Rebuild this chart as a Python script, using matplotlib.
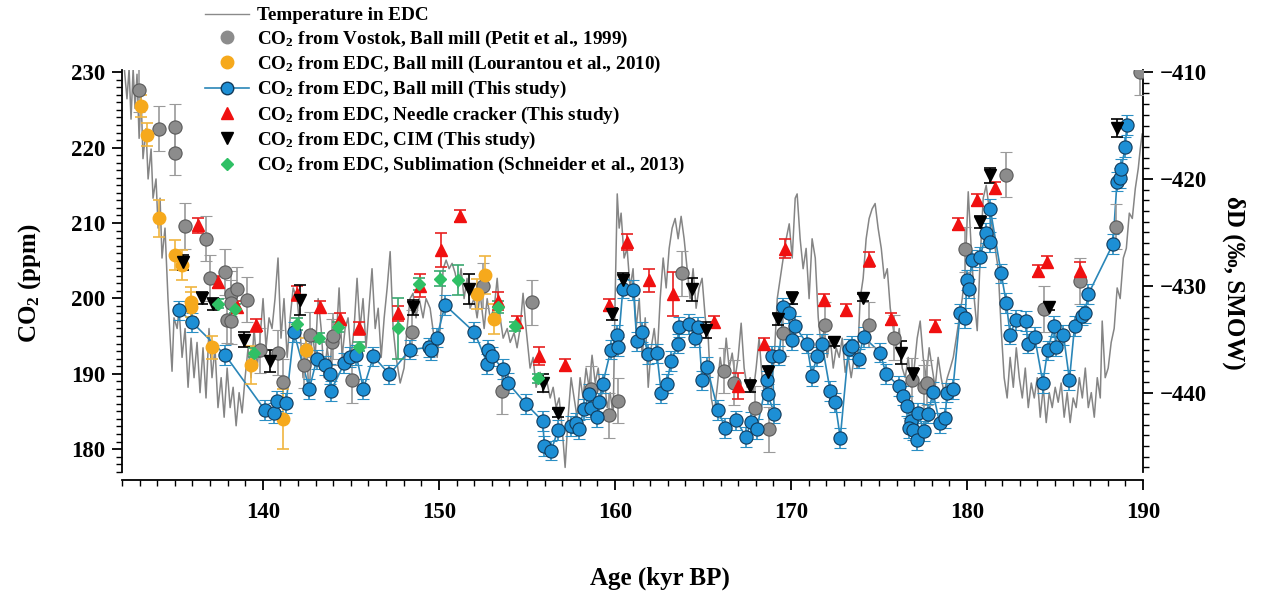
import matplotlib
matplotlib.use("Agg")
import matplotlib.pyplot as plt
from matplotlib.lines import Line2D
from matplotlib.ticker import MultipleLocator

plt.rcParams['font.family'] = 'Liberation Serif'
plt.rcParams['font.weight'] = 'bold'
plt.rcParams['mathtext.fontset'] = 'custom'
plt.rcParams['mathtext.rm'] = 'Liberation Serif:bold'
plt.rcParams['mathtext.it'] = 'Liberation Serif:bold:italic'
plt.rcParams['mathtext.bf'] = 'Liberation Serif:bold'

# --- EDC temperature proxy (deltaD, permil) ---
temp_age = [132.11, 132.28, 132.40, 132.51, 132.63, 132.74, 132.85, 132.97, 133.08, 133.19,
            133.36, 133.48, 133.65, 133.76, 133.93, 134.05, 134.16, 134.27, 134.44, 134.61,
            134.73, 134.84, 134.95, 135.13, 135.24, 135.41, 135.58, 135.75, 135.92, 136.09,
            136.26, 136.43, 136.60, 136.77, 136.94, 137.11, 137.28, 137.45, 137.63, 137.80,
            137.97, 138.14, 138.31, 138.48, 138.65, 138.82, 138.99, 139.16, 139.33, 139.50,
            139.67, 139.84, 140.01, 140.18, 140.35, 140.52, 140.69, 140.86, 141.03, 141.20,
            141.38, 141.55, 141.72, 141.94, 142.11, 142.28, 142.45, 142.63, 142.80, 142.97,
            143.14, 143.31, 143.48, 143.65, 143.82, 143.99, 144.16, 144.33, 144.50, 144.67,
            144.84, 145.01, 145.18, 145.35, 145.52, 145.69, 145.86, 146.03, 146.20, 146.38,
            146.55, 146.72, 146.89, 147.06, 147.23, 147.40, 147.57, 147.80, 148.02, 148.19,
            148.36, 148.53, 148.70, 148.88, 149.10, 149.27, 149.50, 149.73, 149.90, 150.07,
            150.24, 150.41, 150.58, 150.75, 150.92, 151.09, 151.26, 151.43, 151.60, 151.77,
            152.00, 152.17, 152.34, 152.57, 152.74, 152.91, 153.14, 153.31, 153.48, 153.65,
            153.88, 154.05, 154.27, 154.44, 154.61, 154.78, 154.95, 155.18, 155.35, 155.52,
            155.75, 155.92, 156.09, 156.32, 156.49, 156.66, 156.83, 157.00, 157.17, 157.34,
            157.51, 157.68, 157.85, 158.02, 158.19, 158.36, 158.53, 158.70, 158.88, 159.05,
            159.22, 159.39, 159.56, 159.73, 159.90, 160.01, 160.13, 160.24, 160.35, 160.52,
            160.69, 160.86, 161.03, 161.20, 161.38, 161.55, 161.72, 161.89, 162.06, 162.23,
            162.40, 162.57, 162.74, 162.91, 163.08, 163.25, 163.42, 163.59, 163.76, 163.93,
            164.10, 164.27, 164.44, 164.61, 164.78, 164.95, 165.13, 165.30, 165.47, 165.64,
            165.81, 165.98, 166.15, 166.32, 166.49, 166.66, 166.83, 167.00, 167.17, 167.34,
            167.51, 167.68, 167.85, 168.02, 168.19, 168.36, 168.53, 168.70, 168.88, 169.05,
            169.22, 169.39, 169.56, 169.73, 169.90, 170.07, 170.24, 170.35, 170.52, 170.69,
            170.86, 171.03, 171.20, 171.38, 171.55, 171.72, 171.89, 172.06, 172.23, 172.40,
            172.57, 172.74, 172.91, 173.08, 173.25, 173.42, 173.59, 173.76, 173.93, 174.10,
            174.27, 174.44, 174.61, 174.78, 174.95, 175.13, 175.30, 175.47, 175.64, 175.81,
            175.98, 176.15, 176.32, 176.49, 176.66, 176.83, 177.00, 177.17, 177.34, 177.51,
            177.68, 177.85, 178.02, 178.19, 178.36, 178.53, 178.70, 178.88, 179.05, 179.22,
            179.39, 179.56, 179.73, 179.90, 180.07, 180.24, 180.41, 180.58, 180.75, 180.92,
            181.09, 181.26, 181.43, 181.60, 181.77, 181.94, 182.11, 182.28, 182.45, 182.63,
            182.80, 182.97, 183.14, 183.31, 183.48, 183.65, 183.82, 183.99, 184.16, 184.33,
            184.50, 184.67, 184.84, 185.01, 185.18, 185.35, 185.52, 185.69, 185.86, 186.03,
            186.20, 186.38, 186.55, 186.72, 186.89, 187.06, 187.23, 187.40, 187.57, 187.68,
            187.85, 188.02, 188.19, 188.36, 188.53, 188.70, 188.88, 189.05, 189.22, 189.39,
            189.56, 189.73, 189.84, 189.95]
temp_dD = [-409.3, -412.5, -409.7, -414.4, -409.7, -413.4, -410.2, -416.2, -412.1, -418.1,
           -415.3, -420.0, -417.2, -421.8, -420.0, -424.6, -421.8, -427.4, -424.6, -431.2,
           -434.9, -438.0, -433.0, -434.0, -432.1, -436.7, -434.0, -439.5, -434.9, -438.6,
           -435.3, -440.0, -435.8, -440.5, -434.0, -438.6, -435.8, -441.4, -438.6, -442.3,
           -437.7, -441.4, -439.5, -443.1, -440.0, -441.9, -438.6, -435.8, -438.6, -434.0,
           -437.7, -434.9, -431.2, -435.8, -433.0, -434.0, -431.2, -427.4, -434.9, -431.2,
           -436.7, -433.0, -430.2, -431.2, -434.0, -438.6, -434.9, -440.5, -434.0, -436.7,
           -431.2, -434.0, -438.6, -435.8, -437.7, -433.0, -435.3, -430.2, -436.7, -434.0,
           -433.0, -436.7, -434.0, -429.3, -434.0, -431.2, -435.8, -432.1, -428.4, -434.0,
           -432.1, -436.7, -433.0, -430.2, -426.8, -434.0, -436.7, -439.1, -437.7, -434.0,
           -431.2, -430.7, -433.0, -431.2, -433.0, -431.2, -432.1, -434.9, -436.7, -434.0,
           -428.4, -427.6, -428.4, -427.9, -428.8, -430.2, -428.4, -431.2, -429.3, -432.1,
           -431.2, -433.0, -430.7, -434.0, -431.2, -433.0, -432.1, -429.3, -433.0, -434.9,
           -434.0, -435.3, -434.4, -435.8, -434.0, -430.7, -434.0, -437.7, -436.7, -439.5,
           -438.1, -440.0, -438.6, -440.5, -439.5, -441.4, -440.5, -443.3, -447.0, -442.3,
           -438.6, -440.5, -442.3, -438.6, -440.5, -437.7, -439.5, -436.5, -439.1, -437.7,
           -440.5, -438.6, -441.4, -440.0, -442.3, -431.2, -421.4, -424.6, -423.2, -427.4,
           -426.5, -430.2, -428.4, -434.0, -431.2, -436.7, -433.0, -439.5, -435.8, -434.0,
           -436.7, -431.2, -427.4, -430.2, -426.5, -424.6, -423.7, -425.6, -423.5, -425.6,
           -428.4, -431.2, -428.4, -432.1, -430.2, -429.3, -433.0, -434.9, -440.5, -441.9,
           -439.5, -436.7, -438.6, -434.9, -437.7, -436.3, -438.6, -436.7, -433.5, -437.7,
           -439.5, -438.6, -440.0, -437.7, -434.9, -438.6, -440.5, -437.7, -439.5, -436.7,
           -431.2, -429.3, -427.4, -425.6, -424.2, -427.4, -421.8, -421.4, -425.6, -428.4,
           -426.5, -431.2, -425.6, -427.4, -433.0, -435.8, -434.0, -436.7, -434.9, -437.7,
           -435.8, -436.7, -434.9, -438.1, -436.7, -438.6, -436.7, -437.7, -431.2, -429.3,
           -425.6, -423.7, -422.8, -422.3, -424.6, -426.5, -429.3, -428.4, -432.1, -434.0,
           -435.8, -434.0, -437.7, -438.6, -436.7, -439.5, -437.7, -434.9, -433.3, -436.7,
           -438.6, -435.8, -437.7, -439.5, -436.7, -438.6, -440.0, -438.6, -437.7, -436.7,
           -434.9, -433.0, -431.2, -428.4, -421.2, -426.5, -431.2, -434.2, -427.4, -421.8,
           -420.6, -422.8, -424.6, -426.5, -428.4, -434.0, -438.6, -440.5, -436.7, -439.5,
           -435.8, -438.6, -440.5, -437.7, -441.4, -439.1, -440.5, -438.6, -442.3, -439.5,
           -442.8, -440.0, -441.4, -439.5, -440.9, -439.1, -442.3, -440.0, -442.8, -440.5,
           -441.4, -438.6, -440.5, -437.7, -441.4, -440.0, -442.3, -438.6, -440.5, -433.3,
           -438.6, -437.7, -435.3, -434.0, -430.2, -431.2, -427.4, -426.5, -423.2, -423.7,
           -420.9, -419.0, -417.2, -415.8]

# --- CO2 from Vostok, ball mill (Petit et al., 1999) ---
vostok_age = [132.98, 134.12, 134.99, 134.99, 135.60, 136.77, 137.00, 137.85, 138.19, 138.55,
              138.19, 139.09, 137.98, 138.18, 139.84, 140.88, 141.13, 142.34, 142.68, 143.91,
              144.01, 145.05, 148.46, 152.53, 153.57, 155.28, 158.63, 159.69, 160.17, 163.80,
              166.17, 166.77, 167.95, 168.76, 169.54, 171.94, 174.46, 175.88, 176.87, 177.53,
              177.72, 179.90, 182.23, 184.39, 186.43, 188.48, 189.80]
vostok_co2 = [227.7, 222.5, 222.8, 219.3, 209.6, 207.9, 202.7, 203.5, 200.6, 201.2,
              199.4, 199.8, 197.1, 197.0, 193.1, 192.8, 188.9, 191.1, 195.2, 194.2,
              195.0, 189.1, 195.5, 201.7, 187.7, 199.5, 188.0, 184.5, 186.4, 203.3,
              190.4, 188.8, 185.4, 182.6, 195.4, 196.5, 196.5, 194.8, 189.1, 188.2,
              188.8, 206.5, 216.4, 198.6, 202.3, 209.5, 230.0]
vostok_err = 3.0

# --- CO2 from EDC, ball mill (Lourantou et al., 2010) ---
lour_age = [133.06, 133.40, 134.09, 134.99, 135.39, 135.92, 135.90, 137.10, 139.31, 141.13,
            142.45, 152.15, 152.64, 153.15]
lour_co2 = [225.5, 221.7, 210.6, 205.7, 204.4, 199.5, 198.8, 193.5, 191.2, 184.0,
            193.2, 200.6, 203.1, 197.3]
lour_err = [1.5, 1.5, 2.5, 2.0, 2.0, 2.0, 2.0, 1.5, 2.5, 4.0, 1.5, 2.0, 2.5, 2.0]

# --- CO2 from EDC, ball mill (this study) ---
ball_age = [135.26, 135.99, 137.85, 140.11, 140.64, 140.79, 141.32, 141.76, 142.64, 143.06,
            143.55, 143.82, 143.86, 144.63, 144.95, 145.30, 145.71, 146.28, 147.19, 148.36,
            149.46, 149.54, 149.88, 150.35, 152.02, 152.76, 152.78, 153.04, 153.63, 153.91,
            154.94, 155.90, 155.99, 156.38, 156.76, 157.53, 157.81, 157.93, 158.25, 158.55,
            158.63, 158.97, 159.09, 159.31, 159.77, 160.11, 160.18, 160.45, 161.05, 161.24,
            161.55, 161.90, 162.38, 162.63, 162.95, 163.19, 163.61, 163.65, 164.18, 164.56,
            164.74, 164.95, 165.22, 165.85, 166.26, 166.89, 167.45, 167.72, 168.06, 168.63,
            168.67, 169.06, 168.91, 169.33, 169.57, 169.86, 170.05, 170.24, 170.90, 171.19,
            171.47, 171.76, 172.23, 172.51, 172.80, 173.27, 173.46, 173.84, 174.12, 175.07,
            175.39, 176.11, 176.39, 176.58, 176.81, 176.68, 176.96, 177.15, 177.24, 177.53,
            177.81, 178.06, 178.44, 178.76, 178.86, 179.20, 179.61, 179.90, 179.99, 180.09,
            180.28, 180.75, 181.09, 181.32, 181.32, 181.94, 182.23, 182.45, 182.78, 183.36,
            183.44, 183.84, 184.31, 184.58, 184.95, 185.05, 185.48, 185.82, 186.11, 186.56,
            186.68, 186.90, 188.29, 188.52, 188.67, 188.76, 188.99, 189.08]
ball_co2 = [198.4, 196.8, 192.5, 185.2, 184.8, 186.4, 186.1, 195.5, 188.0, 191.9,
            191.1, 190.0, 187.7, 191.4, 192.2, 192.5, 188.0, 192.3, 189.9, 193.2,
            193.5, 193.1, 194.8, 199.1, 195.5, 191.3, 193.2, 192.3, 190.6, 188.8,
            186.0, 183.7, 180.4, 179.8, 182.5, 183.1, 183.5, 182.6, 185.3, 187.3,
            185.5, 184.2, 186.2, 188.7, 193.2, 195.2, 193.6, 201.3, 201.1, 194.3,
            195.5, 192.6, 192.7, 187.4, 188.7, 191.7, 194.0, 196.2, 196.6, 194.8,
            196.2, 189.1, 190.9, 185.2, 182.8, 183.8, 181.6, 183.6, 182.7, 189.1,
            187.3, 184.7, 192.4, 192.4, 198.8, 198.0, 194.5, 196.3, 194.0, 189.7,
            192.3, 194.0, 187.7, 186.2, 181.5, 193.3, 193.7, 192.0, 194.9, 192.8,
            190.0, 188.4, 187.1, 185.7, 183.7, 182.8, 182.5, 181.2, 184.8, 182.4,
            184.7, 187.6, 183.5, 184.1, 187.5, 188.0, 198.0, 197.4, 202.4, 201.3,
            205.1, 205.5, 208.7, 207.5, 211.9, 203.3, 199.4, 195.2, 197.1, 197.0,
            194.0, 194.9, 188.8, 193.1, 196.3, 193.6, 195.1, 189.2, 196.3, 197.7,
            198.0, 200.6, 207.2, 215.5, 216.0, 217.2, 220.1, 223.0]
ball_err = 1.3

# --- CO2 from EDC, needle cracker (this study) ---
needle_age = [136.30, 137.44, 138.55, 139.60, 141.93, 143.25, 144.39, 145.48, 147.70, 148.93,
              150.11, 151.20, 153.38, 154.46, 155.71, 157.17, 159.67, 160.71, 161.96, 163.29,
              165.60, 166.98, 168.48, 169.67, 171.85, 173.14, 174.46, 175.69, 178.19, 179.50,
              180.56, 181.60, 184.06, 184.54, 186.43]
needle_co2 = [209.7, 202.2, 198.9, 196.4, 200.6, 198.8, 197.3, 196.0, 198.0, 201.7,
              206.4, 210.9, 199.7, 196.8, 192.3, 191.1, 199.1, 207.5, 202.4, 200.6,
              196.8, 188.4, 194.0, 206.6, 199.8, 198.5, 205.1, 197.2, 196.3, 209.9,
              213.0, 214.6, 203.6, 204.8, 203.6]
needle_err = [1.0, 0.8, 0.8, 0.8, 1.0, 0.8, 0.8, 0.8, 1.0, 1.5,
              2.3, 0.8, 1.2, 0.8, 1.2, 0.8, 0.8, 1.1, 1.5, 2.9,
              0.8, 1.7, 0.8, 1.3, 0.8, 0.8, 1.0, 0.8, 0.8, 0.8,
              0.8, 0.8, 0.8, 0.8, 1.2]

# --- CO2 from EDC, CIM (this study) ---
cim_age = [135.48, 136.53, 137.15, 138.93, 140.41, 142.11, 148.55, 151.73, 155.90, 156.79,
           159.86, 160.48, 164.37, 165.18, 167.68, 168.67, 169.29, 170.05, 172.45, 174.08,
           176.26, 176.96, 180.75, 181.28, 184.63, 188.52]
cim_co2 = [204.8, 200.0, 199.3, 194.5, 191.7, 199.8, 198.8, 201.2, 188.8, 184.8,
           197.9, 202.4, 201.2, 195.8, 188.4, 190.2, 197.3, 200.1, 194.2, 200.1,
           192.8, 189.9, 210.1, 216.3, 198.9, 222.6]
cim_err = [1.0, 0.8, 0.8, 1.0, 1.5, 2.0, 1.0, 2.0, 1.2, 0.5,
           0.8, 1.0, 1.5, 1.0, 0.8, 0.8, 0.8, 0.8, 0.5, 0.5,
           1.5, 0.8, 0.8, 1.0, 0.5, 1.2]

# --- CO2 from EDC, sublimation (Schneider et al., 2013) ---
subl_age = [137.47, 138.42, 139.50, 141.93, 143.19, 144.29, 145.48, 147.66, 148.89, 150.07,
            151.11, 153.38, 154.33, 155.65]
subl_co2 = [199.3, 198.6, 192.8, 196.6, 194.8, 196.2, 193.6, 196.0, 201.9, 202.6,
            202.4, 198.8, 196.3, 189.4]
subl_err = [0.6, 0.6, 0.6, 0.8, 0.6, 0.6, 0.6, 4.0, 0.8, 1.0, 2.0, 0.8, 0.6, 0.6]

fig = plt.figure(figsize=(12.78, 5.94), dpi=100)
ax = fig.add_axes([0.0955, 0.2059, 0.7989, 0.6763])
ax2 = ax.twinx()
ax.set_zorder(ax2.get_zorder() + 1)
ax.patch.set_visible(False)

ax2.plot(temp_age, temp_dD, color='#858585', lw=1.1)

eb = dict(ls='none', elinewidth=1.2, capsize=4, capthick=1.2)
ax.errorbar(vostok_age, vostok_co2, yerr=vostok_err, fmt='o', ms=9.5,
            mfc='#8c8c8c', mec='#5a5a5a', mew=0.8, ecolor='#9a9a9a', **eb)
ax.errorbar(lour_age, lour_co2, yerr=lour_err, fmt='o', ms=9,
            mfc='#f6a91c', mec='#f6a91c', ecolor='#f0b540', **eb)
ax.errorbar(ball_age, ball_co2, yerr=ball_err, fmt='o', ms=9.5,
            mfc='#1d8fd5', mec='#123a5a', mew=0.8, ecolor='#2a8fc4',
            elinewidth=1.2, capsize=4, capthick=1.2)
ax.plot(ball_age, ball_co2, color='#2a86b8', lw=1.2, zorder=1.9)
ax.errorbar(needle_age, needle_co2, yerr=needle_err, fmt='^', ms=8.5,
            mfc='#f01010', mec='#f01010', ecolor='#e82020', **eb)
ax.errorbar(cim_age, cim_co2, yerr=cim_err, fmt='v', ms=8.5,
            mfc='#000000', mec='#000000', ecolor='#000000', **eb)
ax.errorbar(subl_age, subl_co2, yerr=subl_err, fmt='D', ms=6,
            mfc='#2fc065', mec='#2fc065', ecolor='#3aa870', **eb)

ax.set_xlim(132, 190)
ax.set_ylim(177.0, 230.3)
ax2.set_ylim(-447.4, -409.8)

for a in (ax, ax2):
    a.spines['top'].set_visible(False)
    for s in a.spines.values():
        s.set_linewidth(1.3)
ax.spines['right'].set_visible(False)
ax2.spines['left'].set_visible(False)
ax2.spines['bottom'].set_visible(False)
ax.spines['bottom'].set_position(('outward', 6))

ax.xaxis.set_major_locator(MultipleLocator(10))
ax.xaxis.set_minor_locator(MultipleLocator(1))
ax.yaxis.set_major_locator(MultipleLocator(10))
ax.yaxis.set_minor_locator(MultipleLocator(1))
ax2.yaxis.set_major_locator(MultipleLocator(10))
ax2.yaxis.set_minor_locator(MultipleLocator(1))
for a in (ax, ax2):
    a.tick_params(which='major', direction='out', length=7, width=1.3, labelsize=16.5, pad=5)
    a.tick_params(which='minor', direction='out', length=4, width=1.0)
ax.tick_params(axis='x', which='major', pad=9)

ax.set_xlabel('Age (kyr BP)', fontsize=18, fontweight='bold')
ax.xaxis.set_label_coords(0.527, -0.235)
ax.set_ylabel('CO$_2$ (ppm)', fontsize=18, fontweight='bold')
ax.yaxis.set_label_coords(-0.077, 0.47)
ax2.set_ylabel('δD (‰, SMOW)', fontsize=18, fontweight='bold', rotation=270)
ax2.yaxis.set_label_coords(1.1, 0.47)

handles = [
    Line2D([], [], color='#8a8a8a', lw=1.0),
    Line2D([], [], ls='none', marker='o', ms=9, mfc='#8c8c8c', mec='#8c8c8c'),
    Line2D([], [], ls='none', marker='o', ms=9, mfc='#f6a91c', mec='#f6a91c'),
    Line2D([], [], color='#2a86b8', lw=1.2, marker='o', ms=9, mfc='#1d8fd5', mec='#123a5a'),
    Line2D([], [], ls='none', marker='^', ms=8.5, mfc='#f01010', mec='#f01010'),
    Line2D([], [], ls='none', marker='v', ms=8.5, mfc='#000000', mec='#000000'),
    Line2D([], [], ls='none', marker='D', ms=6, mfc='#2fc065', mec='#2fc065'),
]
labels = [
    'Temperature in EDC',
    'CO$_2$ from Vostok, Ball mill (Petit et al., 1999)',
    'CO$_2$ from EDC, Ball mill (Lourantou et al., 2010)',
    'CO$_2$ from EDC, Ball mill (This study)',
    'CO$_2$ from EDC, Needle cracker (This study)',
    'CO$_2$ from EDC, CIM (This study)',
    'CO$_2$ from EDC, Sublimation (Schneider et al., 2013)',
]
fig.legend(handles, labels, loc='upper left', bbox_to_anchor=(205 / 1278, 1 - 7 / 594),
           frameon=False, fontsize=13.8, handlelength=2.3, handletextpad=0.4,
           labelspacing=0.22, borderaxespad=0, borderpad=0)

fig.savefig('out.png', dpi=100)
